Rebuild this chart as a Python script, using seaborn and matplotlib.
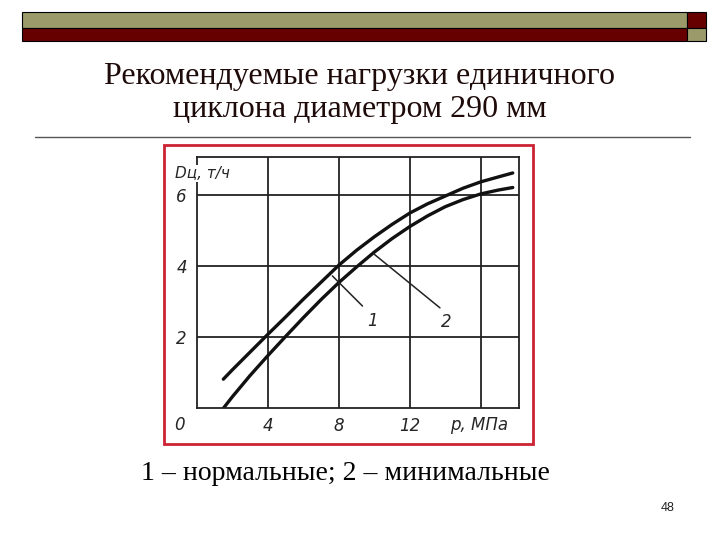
import pandas as pd
import seaborn as sns
import matplotlib.pyplot as plt
from matplotlib.patches import Rectangle
from matplotlib.lines import Line2D

# Data
p_mpa = [1.5, 2, 3, 4, 5, 6, 7, 8, 9, 10, 11, 12, 13, 14, 15, 16, 17, 17.8]
d_normal = [0.82, 1.08, 1.58, 2.08, 2.57, 3.07, 3.55, 4.03, 4.45, 4.83, 5.18, 5.5, 5.76, 5.98, 6.2, 6.38, 6.52, 6.63]
d_minimal = [0.0, 0.32, 0.92, 1.48, 2.02, 2.55, 3.06, 3.54, 3.98, 4.4, 4.78, 5.12, 5.42, 5.68, 5.88, 6.04, 6.15, 6.22]
curve_names = ['1', '2']
x_ticks = [4, 8, 12, 16]
x_ticklabels = ['4', '8', '12', '']
y_ticks = [2, 4, 6]
y_ticklabels = ['2', '4', '6']

title = 'Рекомендуемые нагрузки единичного\nциклона диаметром 290 мм'
caption = '1 – нормальные; 2 – минимальные'
page_no = '48'

df = pd.concat([
    pd.DataFrame({'p': p_mpa, 'D': d_normal, 'curve': curve_names[0]}),
    pd.DataFrame({'p': p_mpa, 'D': d_minimal, 'curve': curve_names[1]}),
])

sns.set_style('white')
plt.rcParams['font.family'] = ['DejaVu Sans']

W, H = 720, 540
fx = lambda px: px / W
fy = lambda py: 1 - py / H

fig = plt.figure(figsize=(7.2, 5.4), dpi=100)
fig.patch.set_facecolor('white')

# slide header bars
olive = '#9b9a6b'
maroon = '#660000'
fig.add_artist(Rectangle((fx(22), fy(28)), fx(687) - fx(22), (28 - 12) / H,
                         transform=fig.transFigure, facecolor=olive, edgecolor='black', lw=0.8))
fig.add_artist(Rectangle((fx(22), fy(41)), fx(687) - fx(22), (41 - 28) / H,
                         transform=fig.transFigure, facecolor=maroon, edgecolor='black', lw=0.8))
fig.add_artist(Rectangle((fx(687), fy(28)), fx(706) - fx(687), (28 - 12) / H,
                         transform=fig.transFigure, facecolor=maroon, edgecolor='black', lw=0.8))
fig.add_artist(Rectangle((fx(687), fy(41)), fx(706) - fx(687), (41 - 28) / H,
                         transform=fig.transFigure, facecolor=olive, edgecolor='black', lw=0.8))

fig.text(0.5, fy(93), title, ha='center', va='center', fontsize=23,
         family='Liberation Serif', color='#1f0a0a', linespacing=1.2)
fig.add_artist(Line2D([fx(35), fx(690)], [fy(137), fy(137)],
                      transform=fig.transFigure, color='#555555', lw=1))

# red frame around the scanned chart
fig.add_artist(Rectangle((fx(164), fy(444)), fx(533) - fx(164), (444 - 145) / H,
                         transform=fig.transFigure, fill=False, edgecolor='#cc2233', lw=2))

fig.text(fx(345), fy(474), caption, ha='center', va='center', fontsize=20,
         family='Liberation Serif', color='black')
fig.text(fx(668), fy(508), page_no, ha='center', va='center', fontsize=9,
         family='Liberation Sans', color='#222222')

# chart
ax = fig.add_axes([fx(196.7), fy(408.3), fx(519.3) - fx(196.7), (408.3 - 157) / H])
sns.lineplot(data=df, x='p', y='D', hue='curve', palette=['#111111', '#111111'],
             linewidth=2.4, legend=False, ax=ax)
ax.set_xlim(0, 18.17)
ax.set_ylim(0, 7.08)
ax.set_xticks(x_ticks)
ax.set_xticklabels(x_ticklabels, style='italic', fontsize=12)
ax.set_yticks(y_ticks)
ax.set_yticklabels(y_ticklabels, style='italic', fontsize=12)
ax.tick_params(length=0, pad=6)
ax.tick_params(axis='y', pad=7)
ax.set_xlabel('')
ax.set_ylabel('')
ax.grid(True, color='#222222', lw=1.3)
for s in ax.spines.values():
    s.set_visible(True)
    s.set_color('#222222')
    s.set_linewidth(1.3)

ax.text(-0.95, -0.47, '0', style='italic', fontsize=12, ha='center', va='center')
ax.text(15.9, -0.47, 'р, МПа', style='italic', fontsize=12, ha='center', va='center')
ax.text(-1.25, 6.62, 'Dц, т/ч', style='italic', fontsize=11, ha='left', va='center',
        bbox=dict(facecolor='white', edgecolor='none', pad=0.5), clip_on=False)

# leader lines for curve numbers
ax.plot([7.64, 9.34], [3.73, 2.88], color='#222222', lw=1.1)
ax.text(9.9, 2.45, '1', style='italic', fontsize=12, ha='center', va='center')
ax.plot([10.0, 13.7], [4.34, 2.83], color='#222222', lw=1.1)
ax.text(14.05, 2.42, '2', style='italic', fontsize=12, ha='center', va='center')

fig.savefig('out.png', dpi=100, facecolor='white')
